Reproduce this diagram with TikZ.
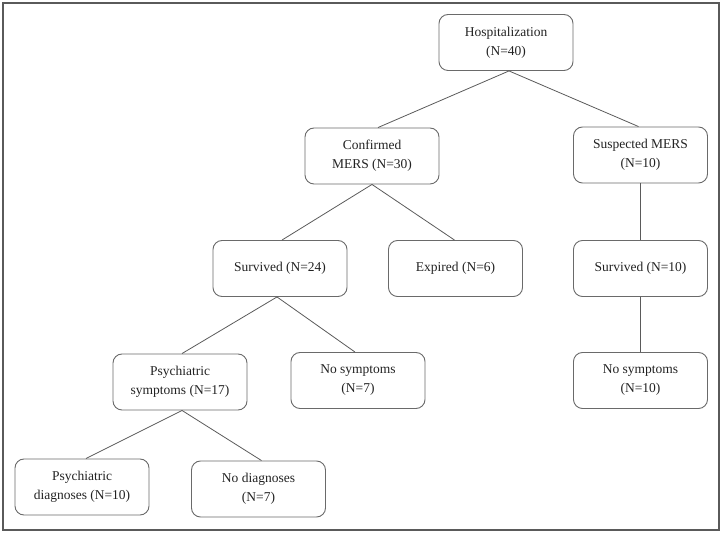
\documentclass[tikz,border=0pt]{standalone}
\usepackage{fontspec}
\setmainfont{Liberation Serif}
\definecolor{boxline}{HTML}{6A6A6A}
\definecolor{conline}{HTML}{5A5A5A}
\definecolor{txt}{HTML}{222222}
\begin{document}
\begin{tikzpicture}[x=1pt,y=-1pt,
  box/.style={draw=boxline, line width=0.9pt, rounded corners=9pt, minimum width=134pt, minimum height=56pt,
    align=center, text=txt, inner sep=0pt, font=\fontsize{13.5}{19}\selectfont},
  con/.style={draw=conline, line width=0.8pt}]
\useasboundingbox (0,0) rectangle (724,534);
\draw[draw=conline, line width=1.6pt] (3,3) rectangle (719,530);

\node[box] (hosp)   at (506,42.5)  {Hospitalization\\(N=40)};
\node[box] (conf)   at (372,156)   {Confirmed\\MERS (N=30)};
\node[box] (susp)   at (640.5,155) {Suspected MERS\\(N=10)};
\node[box] (surv)   at (280,268.5) {Survived (N=24)};
\node[box] (exp)    at (455.5,268.5) {Expired (N=6)};
\node[box] (surv2)  at (640.5,268.5) {Survived (N=10)};
\node[box] (psy)    at (180,382)   {Psychiatric\\symptoms (N=17)};
\node[box] (nosym)  at (358,380.5) {No symptoms\\(N=7)};
\node[box] (nosym2) at (640.5,380.5) {No symptoms\\(N=10)};
\node[box] (psyd)   at (82,487)    {Psychiatric\\diagnoses (N=10)};
\node[box] (nodiag) at (258.5,489) {No diagnoses\\(N=7)};

\draw[con] ([xshift=3pt]hosp.south) -- ([xshift=6pt]conf.north);
\draw[con] ([xshift=3pt]hosp.south) -- ([xshift=-2pt]susp.north);
\draw[con] (conf.south) -- ([xshift=2pt]surv.north);
\draw[con] (conf.south) -- ([xshift=-1pt]exp.north);
\draw[con] ([xshift=-3pt]surv.south) -- ([xshift=2pt]psy.north);
\draw[con] ([xshift=-3pt]surv.south) -- ([xshift=-3pt]nosym.north);
\draw[con] ([xshift=2pt]psy.south) -- ([xshift=4pt]psyd.north);
\draw[con] ([xshift=2pt]psy.south) -- ([xshift=3pt]nodiag.north);
\draw[con] (susp.south) -- (surv2.north);
\draw[con] (surv2.south) -- (nosym2.north);
\end{tikzpicture}
\end{document}
